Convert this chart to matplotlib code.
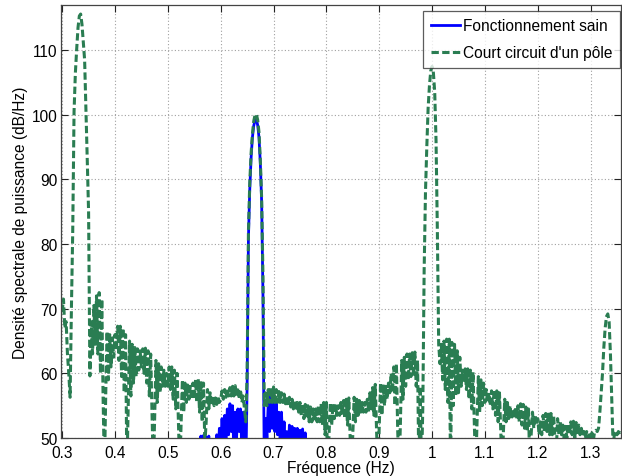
import numpy as np
import matplotlib
matplotlib.use("Agg")
import matplotlib.pyplot as plt

plt.rcParams['font.family'] = ['Liberation Sans', 'DejaVu Sans']

# Frequency grid (Hz) for the faulty-machine spectrum
f_start = 0.300
f_step = 0.0025
court_circuit_db = [
    69.5, 71.5, 67, 68, 63, 60, 56.3, 70, 82, 100.5, 106.5, 110.2, 113.5, 115.3, 115.6, 114, 111.2, 108.5, 101, 93,
    85, 59.6, 68, 63, 70.5, 64.5, 72, 63, 72.5, 60, 71.5, 56, 45, 57, 66.5, 59, 66, 61, 65.5, 62.5,
    66, 63.5, 67.3, 62, 67.3, 59.5, 67, 57, 66, 45, 55, 65, 56.5, 64.5, 58.5, 64, 59.5, 63.8, 60.5, 63.5,
    61, 63.8, 60, 63.9, 58.5, 63.5, 56.5, 63, 54, 45, 53, 62, 55.5, 61.5, 57, 61, 58, 60.5, 58, 60,
    58, 61, 57.5, 61, 56, 60.5, 54.5, 60, 52.5, 45, 52, 59, 54, 58.5, 55.5, 58.2, 56, 58, 56, 58.5,
    56, 59, 55.5, 59.1, 54, 58.8, 52.5, 58.5, 49, 52.5, 57.5, 54.5, 57, 55, 56.5, 55, 56.2, 55.2, 56.5, 55.5,
    56, 57.3, 56, 57.5, 56.3, 57.7, 56.5, 57.8, 56.5, 58, 56.5, 58.1, 56.5, 57.8, 56, 57.5, 55.5, 56.5, 54.5, 52.5,
    60, 82, 89.5, 94, 97, 99, 100, 100.1, 99.2, 97.3, 93, 87, 75, 55, 57, 55, 57.5, 55.5, 57.8, 55.5,
    57.9, 55.5, 57.5, 55.5, 57.2, 55.5, 57, 55.5, 56.8, 55.3, 56.5, 55, 56.3, 54.8, 56, 54.5, 55.8, 54.2, 55.5, 54,
    55.5, 53.5, 55.3, 53, 55.2, 53, 55, 52.5, 54.8, 52.5, 54.5, 52.5, 54.5, 52.5, 55, 52.5, 55.3, 52, 55.5, 50.5,
    55.5, 45, 50.5, 55.5, 52, 55.3, 53, 55, 53.5, 55, 53.5, 55.5, 53.5, 55.8, 53, 56, 52, 56.2, 50, 45,
    50.5, 56.3, 52.5, 56, 53.5, 55.8, 54, 55.5, 54, 55.5, 54, 56, 54, 57, 54.5, 57.8, 53.5, 58.3, 51, 45,
    51.5, 58.5, 53.5, 58.3, 55, 58, 56, 58.5, 57, 60, 57, 61, 55, 61.5, 51, 45, 52, 62, 56, 62.5,
    58, 63, 59, 63, 59.5, 63.2, 59.5, 63.3, 58, 62, 45, 58, 45, 55, 76, 88, 95, 101, 104.5, 106.8,
    107.5, 106.5, 103.5, 96, 82, 64.5, 61.5, 64.5, 59, 65, 57.5, 65.3, 55.5, 65.3, 45, 64.8, 55, 64.5, 56.5, 63.5,
    57, 62.5, 58, 60.5, 58.5, 60.7, 57.5, 60.7, 56, 60.5, 54.5, 60.2, 52, 45, 52, 59.5, 54, 59, 55, 58.5,
    55.5, 57.5, 55.5, 57, 55, 57.3, 54.5, 57.5, 53.5, 57.3, 52.5, 57, 51, 45, 51, 56, 52.5, 55.5, 53, 55,
    53, 54.5, 53, 54.8, 53, 55, 52.5, 55.3, 52, 55.2, 51.5, 54.8, 51, 54.5, 45, 50.5, 54, 51.5, 53.5, 52,
    53, 50.5, 52.5, 50.5, 53.5, 51, 53.8, 51, 54, 50.5, 53.8, 50.5, 53.5, 50, 48, 53, 50.5, 52.5, 50.5, 52,
    50, 51.8, 50, 52.2, 50.5, 52.5, 50.5, 52.6, 50, 52.4, 50.5, 52, 50.5, 51.5, 50.3, 51, 50, 51, 49.5, 50.5,
    49, 50.8, 49.5, 51, 51.2, 51, 51.5, 54, 57, 60, 64, 67, 68.8, 69.2, 68, 63, 56, 49, 50.5, 51,
    50.5, 51, 50.5, 51,
]

# Healthy machine spectrum (only the part visible above 50 dB)
sain_start = 0.550
sain_db = [
    45, 47, 45, 48, 46, 50.3, 47, 50.4, 47, 50.2, 46, 50.3, 45, 48, 45, 49, 46, 50.5, 47, 51.5,
    49, 53, 49.5, 53.5, 50, 54.5, 50.5, 55.3, 51, 55, 47, 54, 50, 54.5, 51, 54.5, 48, 54, 51, 45,
    58, 81, 88.5, 93.3, 96.5, 98.3, 99.2, 99.3, 98.4, 96.5, 92.5, 86.5, 72, 45, 53, 50, 55.5, 51, 56.5, 51.5,
    56.8, 51, 55.5, 50.5, 54, 50, 54, 49, 52.5, 48, 51, 47, 52, 48, 51.8, 48, 51.5, 47, 51.5, 47,
    51.2, 47, 51.4, 47, 50.8, 46, 49, 45, 45,
]

x_ticks = [0.3, 0.4, 0.5, 0.6, 0.7, 0.8, 0.9, 1.0, 1.1, 1.2, 1.3]
x_tick_labels = ["0.3", "0.4", "0.5", "0.6", "0.7", "0.8", "0.9", "1", "1.1", "1.2", "1.3"]
y_ticks = [50, 60, 70, 80, 90, 100, 110]

f_cc = f_start + f_step * np.arange(len(court_circuit_db))
f_sain = sain_start + f_step * np.arange(len(sain_db))

W, H = 622, 477
FS = 11.2
fig = plt.figure(figsize=(W / 100, H / 100), dpi=100)
ax = fig.add_axes([61 / W, 1 - 439 / H, 560 / W, 433 / H])

ax.plot(f_sain, sain_db, color='#0000ff', lw=2.0, label='Fonctionnement sain')
ax.plot(f_cc, court_circuit_db, color='#2a7d52', lw=2.2, dashes=(2.4, 1.1),
        label="Court circuit d'un pôle")

ax.set_xlim(0.2978, 1.3575)
ax.set_ylim(50, 117)
ax.set_xticks(x_ticks)
ax.set_xticklabels(x_tick_labels)
ax.set_yticks(y_ticks)
ax.tick_params(direction='in', length=5, width=0.8, top=True, right=True,
               labelsize=FS, colors='#222222', labelcolor='black', pad=2.5)
ax.tick_params(axis='x', pad=5)
ax.grid(True, linestyle=(0, (1, 2)), color='#a0a0a0', lw=0.8)
for s in ax.spines.values():
    s.set_color('#444444')
    s.set_linewidth(0.9)

ax.set_xlabel('Fréquence (Hz)', fontsize=FS, labelpad=0)
ax.set_ylabel('Densité spectrale de puissance (dB/Hz)', fontsize=FS, labelpad=3)

leg = ax.legend(loc='upper right', bbox_to_anchor=(620 / W, 1 - 11.5 / H),
                bbox_transform=fig.transFigure, borderaxespad=0, fontsize=FS,
                frameon=True, fancybox=False, handlelength=1.9, handletextpad=0.15,
                labelspacing=0.75, borderpad=0.5)
leg.get_frame().set_edgecolor('#333333')
leg.get_frame().set_linewidth(0.9)

fig.savefig('out.png', dpi=100)
